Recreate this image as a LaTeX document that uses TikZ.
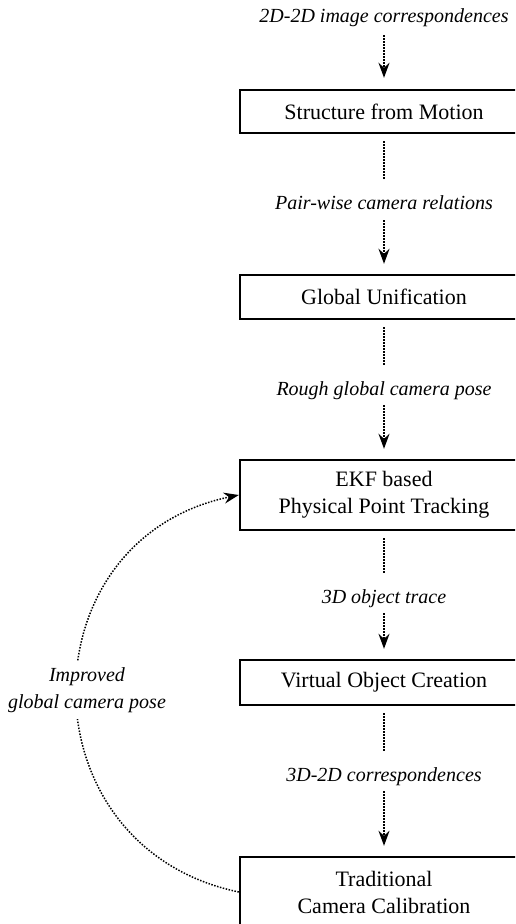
\documentclass[tikz,border=0pt]{standalone}
\usepackage{fontspec}
\setmainfont{Liberation Serif}
\usetikzlibrary{arrows.meta}

\begin{document}
\begin{tikzpicture}[x=0.5pt,y=-0.5pt,
  stagebox/.style={draw, line width=1.2pt, minimum width=144pt, inner sep=0pt,
    align=center, font=\fontsize{11}{13.5}\selectfont},
  flowlabel/.style={inner sep=0pt, text height=7pt, text depth=2pt,
    font=\fontsize{10}{13.5}\selectfont\itshape},
  dotline/.style={line width=0.75pt, dash pattern=on 0.75pt off 0.75pt},
  dotarrow/.style={dotline, -{Stealth[length=7.5pt,width=5.5pt,inset=2.5pt]}},
  lead/.style={dotline, shorten <=3.5pt, shorten >=8pt},
  feed/.style={dotarrow, shorten <=3pt, shorten >=5pt}
]
\useasboundingbox (0,0) rectangle (515,924);
\clip (0,0) rectangle (515,924);

% processing stages
\node[stagebox, minimum height=21.5pt] (sfm)  at (384,111.5) {Structure from Motion};
\node[stagebox, minimum height=22pt]   (glob) at (384,297)   {Global Unification};
\node[stagebox, minimum height=35pt]   (ekf)  at (384,495)   {EKF based\\Physical Point Tracking};
\node[stagebox, minimum height=22.5pt] (virt) at (384,682.5) {Virtual Object Creation};
\node[stagebox, minimum height=35pt]   (cal)  at (384,892)   {Traditional\\Camera Calibration};

% data passed between stages
\node[flowlabel] (in)   at (384,18)  {2D-2D image correspondences};
\node[flowlabel] (pair) at (384,205) {Pair-wise camera relations};
\node[flowlabel] (pose) at (384,390) {Rough global camera pose};
\node[flowlabel] (obj)  at (384,598) {3D object trace};
\node[flowlabel] (corr) at (384,776) {3D-2D correspondences};

% main pipeline
\draw[dotarrow, shorten <=4pt, shorten >=5.5pt] (in) -- (sfm);
\draw[lead] (sfm) -- (pair);
\draw[feed] (pair) -- (glob);
\draw[lead] (glob) -- (pose);
\draw[feed] (pose) -- (ekf);
\draw[lead] (ekf) -- (obj);
\draw[feed] (obj) -- (virt);
\draw[lead] (virt) -- (corr);
\draw[feed] (corr) -- (cal);

% feedback loop from calibration back to tracking
\draw[dotarrow] (cal.west) .. controls +(-216,-45) and +(-216,45) .. (ekf.west);
\node[flowlabel, text height=, text depth=, align=center, fill=white,
  inner sep=3pt] (improved) at (87,690) {Improved\\global camera pose};
\end{tikzpicture}
\end{document}
